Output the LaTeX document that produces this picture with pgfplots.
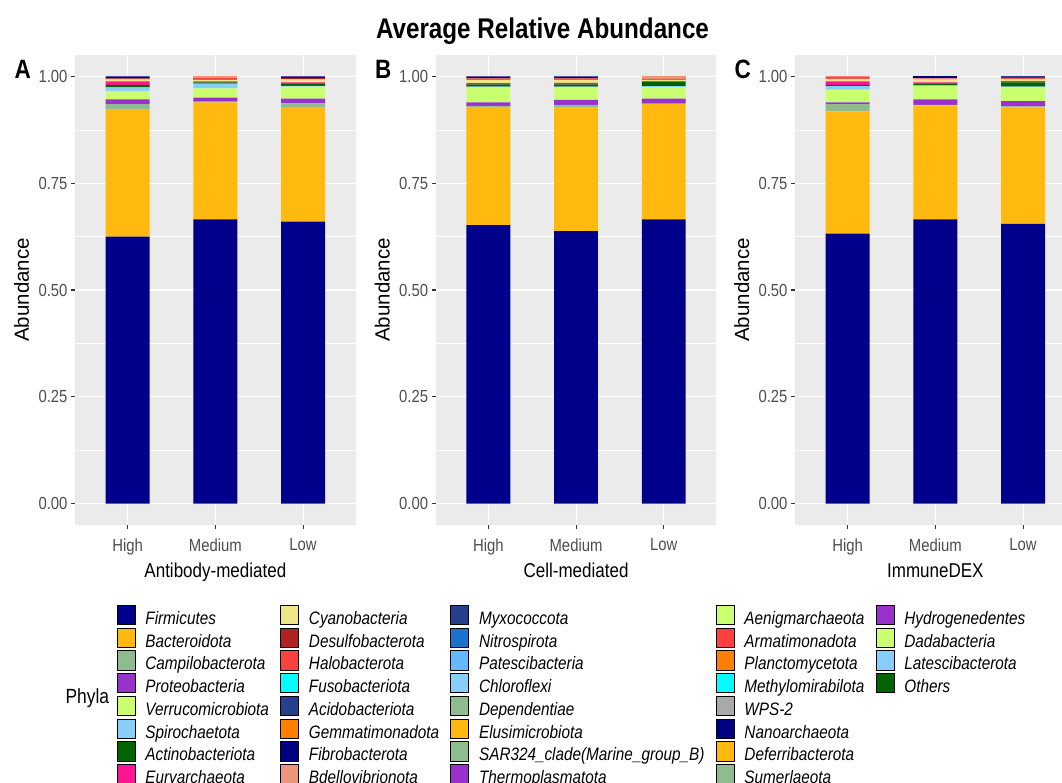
\documentclass[border=0pt]{standalone}
\usepackage{fontspec}
\setmainfont{Liberation Sans}[FakeStretch=0.85]
\newfontfamily\plainsans{Liberation Sans}
\usepackage{pgfplots}
\usepackage{pgfplotstable}
\pgfplotsset{compat=1.18}

\definecolor{bggray}{HTML}{EBEBEB}
\definecolor{tickgray}{HTML}{333333}
\definecolor{labgray}{HTML}{4D4D4D}
\definecolor{cFirm}{HTML}{00008B}
\definecolor{cBact}{HTML}{FFB90F}
\definecolor{cCamp}{HTML}{8FBC8F}
\definecolor{cProt}{HTML}{9932CC}
\definecolor{cVerr}{HTML}{CAFF70}
\definecolor{cSpir}{HTML}{87CEFA}
\definecolor{cActi}{HTML}{006400}
\definecolor{cEury}{HTML}{FF1493}
\definecolor{cCyan}{HTML}{EEE685}
\definecolor{cDesu}{HTML}{B22222}
\definecolor{cHalo}{HTML}{FF4040}
\definecolor{cFuso}{HTML}{00FFFF}
\definecolor{cAcid}{HTML}{27408B}
\definecolor{cGemm}{HTML}{FF7F00}
\definecolor{cFibr}{HTML}{000080}
\definecolor{cBdel}{HTML}{E9967A}
\definecolor{cNitr}{HTML}{1874CD}
\definecolor{cPate}{HTML}{63B8FF}
\definecolor{cWPS}{HTML}{A9A9A9}

\pgfplotstableread{
x Firm Bact Camp Prot Verr Spir Acti Eury Cyan Desu Halo Acid Fibr Bdel
1 0.625 0.297 0.013 0.011 0.020 0.008 0.006 0.008 0.005 0.002 0 0 0.005 0
2 0.665 0.274 0.002 0.009 0.022 0.011 0.003 0.002 0.004 0 0.004 0 0 0.004
3 0.660 0.268 0.009 0.011 0.028 0.002 0.004 0.004 0.007 0.003 0 0 0.004 0
}\dataA
\pgfplotstableread{
x Firm Bact Camp Prot Verr Spir Acti Eury Cyan Desu Halo Acid Fibr Bdel
1 0.652 0.275 0.004 0.008 0.035 0.002 0.005 0.003 0.008 0 0.003 0 0.005 0
2 0.638 0.289 0.006 0.012 0.029 0.002 0.005 0.004 0.007 0 0.003 0 0.005 0
3 0.665 0.270 0.001 0.012 0.026 0.003 0.011 0 0.004 0 0.002 0 0 0.006
}\dataB
\pgfplotstableread{
x Firm Bact Camp Prot Verr Spir Acti Eury Cyan Desu Halo Acid Fibr Bdel
1 0.632 0.286 0.017 0.004 0.030 0.008 0.003 0.008 0.006 0 0.006 0 0 0
2 0.665 0.267 0.001 0.013 0.031 0.002 0.003 0.004 0.007 0 0.002 0 0.005 0
3 0.655 0.272 0.003 0.012 0.033 0.001 0.010 0.003 0.005 0 0.002 0.004 0 0
}\dataC

\newcommand{\stackbars}[1]{%
\addplot[fill=cFirm,draw=none] table[x=x,y=Firm]{#1};
\addplot[fill=cBact,draw=none] table[x=x,y=Bact]{#1};
\addplot[fill=cCamp,draw=none] table[x=x,y=Camp]{#1};
\addplot[fill=cProt,draw=none] table[x=x,y=Prot]{#1};
\addplot[fill=cVerr,draw=none] table[x=x,y=Verr]{#1};
\addplot[fill=cSpir,draw=none] table[x=x,y=Spir]{#1};
\addplot[fill=cActi,draw=none] table[x=x,y=Acti]{#1};
\addplot[fill=cEury,draw=none] table[x=x,y=Eury]{#1};
\addplot[fill=cCyan,draw=none] table[x=x,y=Cyan]{#1};
\addplot[fill=cDesu,draw=none] table[x=x,y=Desu]{#1};
\addplot[fill=cHalo,draw=none] table[x=x,y=Halo]{#1};
\addplot[fill=cAcid,draw=none] table[x=x,y=Acid]{#1};
\addplot[fill=cFibr,draw=none] table[x=x,y=Fibr]{#1};
\addplot[fill=cBdel,draw=none] table[x=x,y=Bdel]{#1};
}

\newcommand{\tickfont}{\fontsize{17.5pt}{17.5pt}\selectfont}
\newcommand{\labfont}{\fontsize{20pt}{20pt}\selectfont}
\newcommand{\lgd}[2]{\addlegendimage{fill=#1}\addlegendentry{#2}}
\newcommand{\lgdempty}{\addlegendimage{empty legend}\addlegendentry{}}

\pgfplotsset{panel/.style={
  anchor=south west, width=280.7pt, height=470pt, scale only axis,
  xmin=0.4, xmax=3.6, ymin=-0.05, ymax=1.05,
  ybar stacked, bar width=0.5,
  xtick={1,2,3}, xticklabels={High,Medium,Low},
  ytick={0,0.25,0.5,0.75,1}, yticklabels={0.00,0.25,0.50,0.75,1.00},
  minor ytick={0.125,0.375,0.625,0.875},
  xmajorgrids, ymajorgrids, yminorgrids,
  major grid style={white, line width=1.07pt},
  minor grid style={white, line width=0.53pt},
  axis background/.style={fill=bggray},
  axis line style={draw=none},
  tick align=outside, major tick length=4pt, minor tick length=0pt,
  every tick/.style={color=tickgray, line width=1.07pt},
  xtick pos=left, ytick pos=left,
  /pgf/number format/assume math mode=true,
  ticklabel style={font=\tickfont, text=labgray},
  xticklabel style={yshift=-6pt},
  ylabel={Abundance},
  ylabel style={at={(axis description cs:-0.19,0.5)}, anchor=center, rotate=0, font=\plainsans\fontsize{20.5pt}{20.5pt}\selectfont},
  xlabel style={at={(axis description cs:0.5,-0.112)}, anchor=base, font=\labfont},
}}

\begin{document}
\begin{tikzpicture}
\path[use as bounding box] (0pt,0pt) rectangle (1062pt,782pt);

\node[anchor=base, font=\bfseries\fontsize{28.5pt}{28.5pt}\selectfont] at (542.5pt,743.5pt) {Average Relative Abundance};

\begin{axis}[panel, at={(75pt,257pt)}, xlabel={Antibody-mediated}]
\stackbars{\dataA}
\end{axis}
\begin{axis}[panel, at={(435.7pt,257pt)}, xlabel={Cell-mediated}]
\stackbars{\dataB}
\end{axis}
\begin{axis}[panel, at={(795pt,257pt)}, xlabel={ImmuneDEX}]
\stackbars{\dataC}
\end{axis}

\node[anchor=base west, font=\bfseries\fontsize{26.5pt}{26.5pt}\selectfont] at (11pt,703pt) {A};
\node[anchor=base west, font=\bfseries\fontsize{26.5pt}{26.5pt}\selectfont] at (371.5pt,703pt) {B};
\node[anchor=base west, font=\bfseries\fontsize{26.5pt}{26.5pt}\selectfont] at (731pt,703pt) {C};

\node[anchor=base west, font=\fontsize{20.5pt}{20.5pt}\selectfont] at (62pt,78.7pt) {Phyla};

\begin{axis}[at={(0pt,0pt)}, anchor=south west, width=1062pt, height=782pt, scale only axis,
  hide axis, xmin=0, xmax=1, ymin=0, ymax=1,
  legend columns=5, legend cell align=left,
  legend image code/.code={\fill[#1] (0pt,-9.65pt) rectangle (18pt,9.65pt); \path (28.3pt,0pt);},
  legend style={at={(axis description cs:0.10989,0.22634)}, anchor=north west,
    draw=none, fill=none, inner sep=0pt, outer sep=0pt,
    row sep=3pt, column sep=0pt,
    /tikz/every even column/.append style={column sep=11.3pt},
    font=\itshape\fontsize{18pt}{18pt}\selectfont,
    nodes={inner sep=0pt, text height=19.3pt, text depth=0pt, anchor=west}},
]
\lgd{cFirm}{Firmicutes}\lgd{cCyan}{Cyanobacteria}\lgd{cAcid}{Myxococcota}\lgd{cVerr}{Aenigmarchaeota}\lgd{cProt}{Hydrogenedentes}
\lgd{cBact}{Bacteroidota}\lgd{cDesu}{Desulfobacterota}\lgd{cNitr}{Nitrospirota}\lgd{cHalo}{Armatimonadota}\lgd{cVerr}{Dadabacteria}
\lgd{cCamp}{Campilobacterota}\lgd{cHalo}{Halobacterota}\lgd{cPate}{Patescibacteria}\lgd{cGemm}{Planctomycetota}\lgd{cSpir}{Latescibacterota}
\lgd{cProt}{Proteobacteria}\lgd{cFuso}{Fusobacteriota}\lgd{cSpir}{Chloroflexi}\lgd{cFuso}{Methylomirabilota}\lgd{cActi}{Others}
\lgd{cVerr}{Verrucomicrobiota}\lgd{cAcid}{Acidobacteriota}\lgd{cCamp}{Dependentiae}\lgd{cWPS}{WPS-2}\lgdempty
\lgd{cSpir}{Spirochaetota}\lgd{cGemm}{Gemmatimonadota}\lgd{cBact}{Elusimicrobiota}\lgd{cFibr}{Nanoarchaeota}\lgdempty
\lgd{cActi}{Actinobacteriota}\lgd{cFibr}{Fibrobacterota}\lgd{cCamp}{SAR324\_clade(Marine\_group\_B)}\lgd{cBact}{Deferribacterota}\lgdempty
\lgd{cEury}{Euryarchaeota}\lgd{cBdel}{Bdellovibrionota}\lgd{cProt}{Thermoplasmatota}\lgd{cCamp}{Sumerlaeota}
\end{axis}
\end{tikzpicture}
\end{document}
